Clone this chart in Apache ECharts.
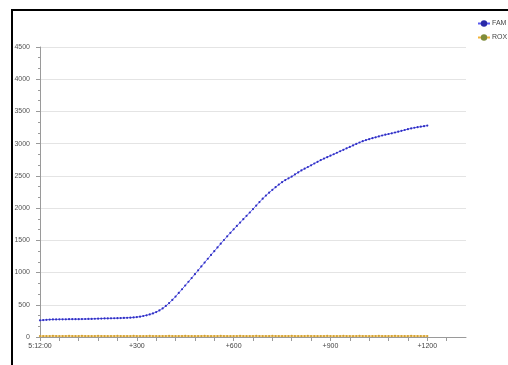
<!DOCTYPE html>
<html>
<head>
<meta charset="utf-8">
<script src="https://cdn.jsdelivr.net/npm/echarts@6/dist/echarts.min.js"></script>
<style>
  html, body { margin: 0; padding: 0; background: #fff; }
  #chart { width: 508px; height: 365px; }
</style>
</head>
<body>
<div id="chart"></div>
<script>
// Seconds elapsed since the 5:12:00 start of the run
const seconds = [
  0, 10, 20, 30, 40, 50, 60, 70, 80, 90,
  100, 110, 120, 130, 140, 150, 160, 170, 180, 190,
  200, 210, 220, 230, 240, 250, 260, 270, 280, 290,
  300, 310, 320, 330, 340, 350, 360, 370, 380, 390,
  400, 410, 420, 430, 440, 450, 460, 470, 480, 490,
  500, 510, 520, 530, 540, 550, 560, 570, 580, 590,
  600, 610, 620, 630, 640, 650, 660, 670, 680, 690,
  700, 710, 720, 730, 740, 750, 760, 770, 780, 790,
  800, 810, 820, 830, 840, 850, 860, 870, 880, 890,
  900, 910, 920, 930, 940, 950, 960, 970, 980, 990,
  1000, 1010, 1020, 1030, 1040, 1050, 1060, 1070, 1080, 1090,
  1100, 1110, 1120, 1130, 1140, 1150, 1160, 1170, 1180, 1190,
  1200
];

// FAM channel fluorescence
const famValues = [
  258, 262, 266, 270, 272, 273, 274, 275, 275, 276,
  276, 277, 277, 278, 279, 280, 281, 283, 285, 286,
  288, 289, 290, 291, 292, 294, 296, 298, 300, 304,
  309, 316, 326, 337, 350, 366, 386, 412, 444, 482,
  526, 575, 628, 684, 741, 799, 857, 915, 975, 1035,
  1095, 1155, 1214, 1273, 1332, 1390, 1448, 1505, 1562, 1617,
  1671, 1724, 1776, 1828, 1880, 1932, 1985, 2040, 2094, 2146,
  2195, 2240, 2283, 2325, 2365, 2402, 2435, 2462, 2490, 2522,
  2554, 2585, 2612, 2638, 2664, 2692, 2719, 2745, 2768, 2791,
  2813, 2836, 2859, 2882, 2905, 2928, 2950, 2973, 2996, 3018,
  3038, 3055, 3070, 3085, 3099, 3113, 3127, 3139, 3150, 3161,
  3173, 3186, 3199, 3212, 3225, 3237, 3247, 3256, 3264, 3272,
  3280
];

// ROX channel fluorescence (reference dye, near zero)
const roxValues = [
  14, 15, 14, 15, 16, 15, 14, 15, 15, 16,
  15, 14, 15, 16, 15, 15, 14, 15, 16, 15,
  15, 14, 15, 15, 16, 15, 14, 15, 15, 16,
  15, 15, 14, 15, 16, 15, 15, 14, 15, 15,
  16, 15, 14, 15, 15, 16, 15, 15, 14, 15,
  15, 16, 15, 14, 15, 15, 16, 15, 15, 14,
  15, 15, 16, 15, 14, 15, 15, 16, 15, 15,
  14, 15, 16, 15, 15, 14, 15, 15, 16, 15,
  15, 14, 15, 16, 15, 15, 14, 15, 15, 16,
  15, 14, 15, 15, 16, 15, 15, 14, 15, 16,
  15, 15, 14, 15, 15, 16, 15, 14, 15, 15,
  16, 15, 15, 14, 15, 16, 15, 15, 14, 15,
  15
];

const seriesNames = ['FAM', 'ROX'];
const startLabel = '5:12:00';
const yTicks = [0, 500, 1000, 1500, 2000, 2500, 3000, 3500, 4000, 4500];

const pair = (xs, ys) => xs.map((x, i) => [x, ys[i]]);
const FONT = '"Liberation Sans", Arial, sans-serif';

const chart = echarts.init(document.getElementById('chart'), null, { renderer: 'canvas' });

chart.setOption({
  animation: false,
  backgroundColor: '#ffffff',
  graphic: [{
    type: 'rect',
    silent: true,
    z: 100,
    shape: { x: 12, y: 10, width: 600, height: 420 },
    style: { fill: 'none', stroke: '#000000', lineWidth: 2 }
  }],
  legend: {
    orient: 'vertical',
    left: 477,
    top: 20,
    padding: 0,
    itemWidth: 12,
    itemHeight: 8,
    itemGap: 7,
    textStyle: { fontSize: 7, color: '#444', fontFamily: FONT, padding: [0, 0, 0, -3] },
    data: [
      { name: seriesNames[0], itemStyle: { color: '#2a2aa8' }, lineStyle: { color: '#5a5af0' } },
      { name: seriesNames[1], itemStyle: { color: '#7f8c3a' }, lineStyle: { color: '#f2b43a' } }
    ]
  },
  grid: {
    left: 40, top: 47, right: 42, bottom: 28,
    containLabel: false,
    outerBoundsMode: 'none'
  },
  xAxis: {
    type: 'value',
    min: 0,
    max: 1320,
    interval: 60,
    axisLine: { show: true, lineStyle: { color: '#9a9a9a', width: 1 } },
    axisTick: { show: true, inside: false, length: 4, lineStyle: { color: '#9a9a9a' } },
    splitLine: { show: false },
    axisLabel: {
      fontSize: 7,
      color: '#444',
      fontFamily: FONT,
      margin: 6,
      showMaxLabel: false,
      formatter: v => (v % 300 !== 0 ? '' : (v === 0 ? startLabel : '+' + v))
    }
  },
  yAxis: {
    type: 'value',
    min: yTicks[0],
    max: yTicks[yTicks.length - 1],
    interval: 500,
    axisLine: { show: true, lineStyle: { color: '#9a9a9a', width: 1 } },
    axisTick: { show: true, length: 4, lineStyle: { color: '#9a9a9a' } },
    minorTick: { show: true, splitNumber: 3, length: 2, lineStyle: { color: '#9a9a9a' } },
    splitLine: { show: true, lineStyle: { color: '#e4e4e4', width: 1 } },
    axisLabel: {
      fontSize: 7, color: '#555', fontFamily: FONT, margin: 10,
      formatter: v => String(v)
    }
  },
  series: [
    {
      name: seriesNames[0],
      type: 'line',
      data: pair(seconds, famValues),
      symbol: 'circle',
      symbolSize: 2.2,
      showAllSymbol: true,
      lineStyle: { color: '#6a6af2', width: 1 },
      itemStyle: { color: '#3030c0' },
      z: 3
    },
    {
      name: seriesNames[1],
      type: 'line',
      data: pair(seconds, roxValues),
      symbol: 'circle',
      symbolSize: 2.2,
      showAllSymbol: true,
      lineStyle: { color: '#f2b43a', width: 1 },
      itemStyle: { color: '#d0a030' },
      z: 2
    }
  ]
});
</script>
</body>
</html>
